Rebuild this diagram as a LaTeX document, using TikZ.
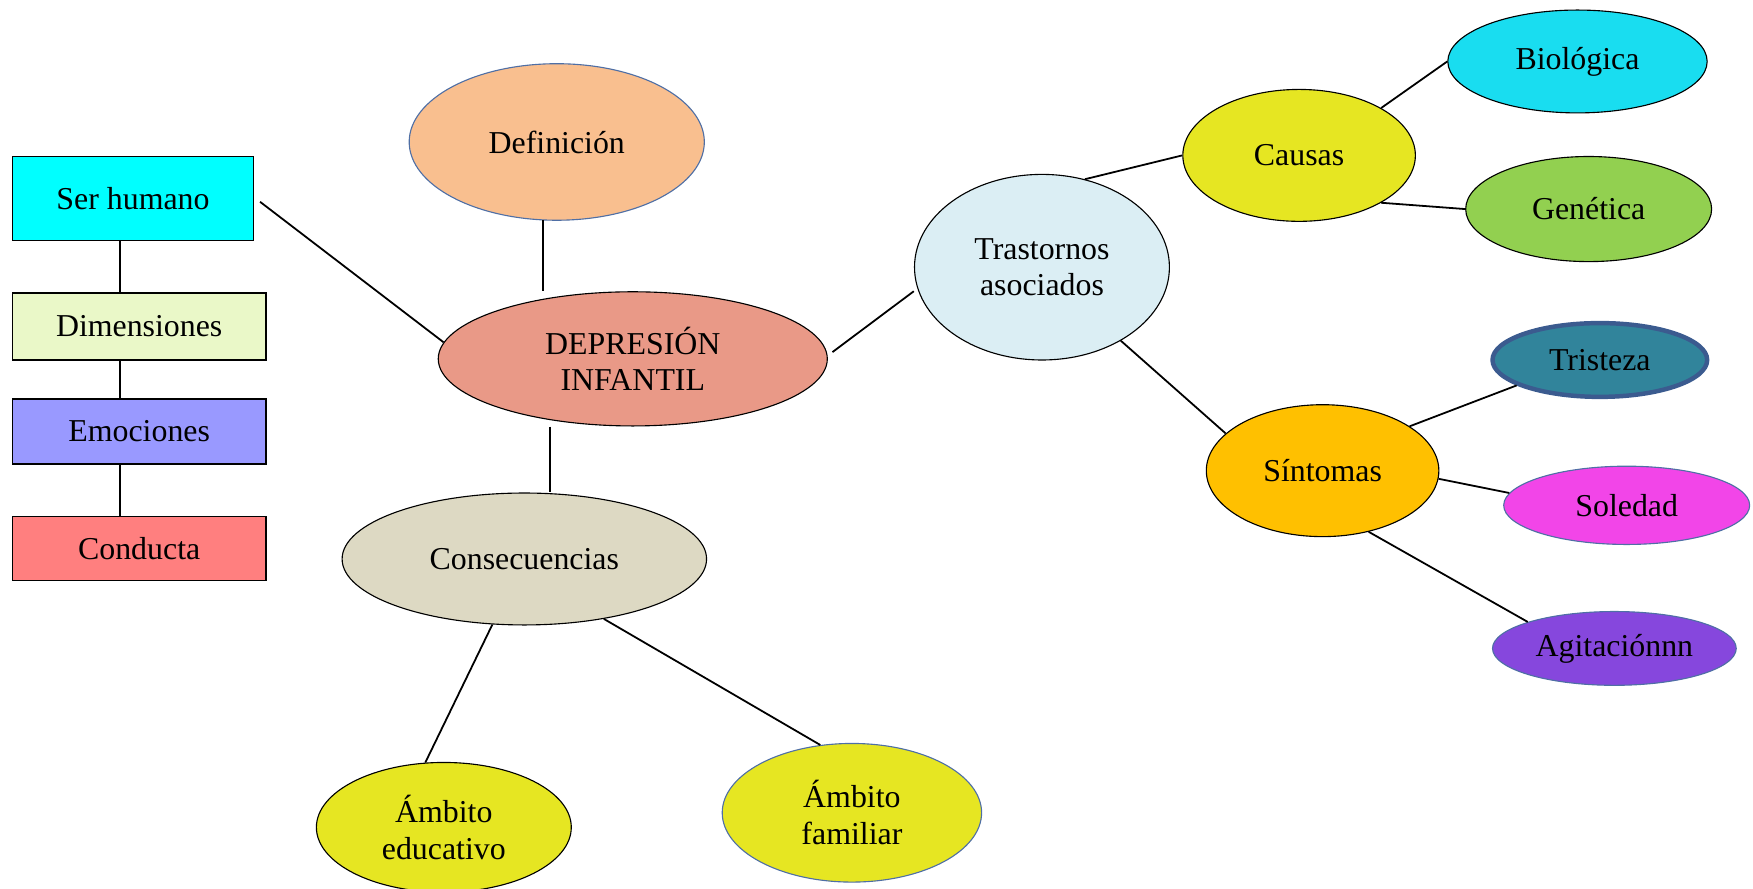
\documentclass[tikz,border=0pt]{standalone}
\usepackage{fontspec}
\setmainfont{Liberation Serif}
\usetikzlibrary{shapes.geometric}
\definecolor{cSer}{HTML}{00FFFF}
\definecolor{cDim}{HTML}{EAF8C8}
\definecolor{cEmo}{HTML}{9999FF}
\definecolor{cCon}{HTML}{FF7F7F}
\definecolor{cDef}{HTML}{F9BF8F}
\definecolor{cDep}{HTML}{E99987}
\definecolor{cCons}{HTML}{DDD9C3}
\definecolor{cYel}{HTML}{E6E622}
\definecolor{cTra}{HTML}{DBEEF4}
\definecolor{cBio}{HTML}{19DDF0}
\definecolor{cGen}{HTML}{92D050}
\definecolor{cSin}{HTML}{FFC000}
\definecolor{cTri}{HTML}{31849B}
\definecolor{cTriB}{HTML}{3B5B8F}
\definecolor{cSol}{HTML}{F245E8}
\definecolor{cAgi}{HTML}{8647DD}
\definecolor{cBlueB}{HTML}{4F6FA5}
\begin{document}
\begin{tikzpicture}[x=0.5pt,y=-0.5pt,
  every node/.style={font=\fontsize{14.25}{16.5}\selectfont, align=center, inner sep=0pt},
  bub/.style={ellipse, draw=black, line width=0.5pt},
  bubblue/.style={ellipse, draw=cBlueB, line width=0.5pt},
  box/.style={rectangle, draw=black, line width=0.6pt},
  link/.style={draw=black, line width=0.8pt}]
\useasboundingbox (0,0) rectangle (1568,795);

% left boxes
\node[box, fill=cSer, minimum width=108pt, minimum height=37.5pt] (ser) at (119,177.5) {Ser humano};
\node[box, fill=cDim, minimum width=113.5pt, minimum height=30pt] (dim) at (124.5,292) {Dimensiones};
\node[box, fill=cEmo, minimum width=113.5pt, minimum height=29pt] (emo) at (124.5,386) {Emociones};
\node[box, fill=cCon, minimum width=113.5pt, minimum height=28.5pt] (con) at (124.5,490.5) {Conducta};

% central
\node[bubblue, fill=cDef, minimum width=132pt, minimum height=70pt] (defn) at (498,127) {Definición};
\node[bub, fill=cDep, minimum width=174pt, minimum height=60pt] (dep) at (566,321) {DEPRESIÓN\\INFANTIL};
\node[bub, fill=cCons, minimum width=163pt, minimum height=59pt] (cons) at (469,500) {Consecuencias};
\node[bub, fill=cYel, minimum width=114pt, minimum height=58pt] (educ) at (397,740) {Ámbito\\educativo};
\node[bubblue, fill=cYel, minimum width=116pt, minimum height=62pt] (fam) at (762,727) {Ámbito\\familiar};

% right
\node[bub, fill=cTra, minimum width=114pt, minimum height=83pt] (tra) at (932,239) {Trastornos\\asociados};
\node[bub, fill=cYel, minimum width=104pt, minimum height=59pt] (cau) at (1162,139) {Causas};
\node[bub, fill=cBio, minimum width=116pt, minimum height=46pt] (bio) at (1411,55) {Biológica};
\node[bub, fill=cGen, minimum width=110pt, minimum height=47pt] (gen) at (1421,187) {Genética};
\node[bub, fill=cSin, minimum width=104pt, minimum height=59pt] (sin) at (1183,421) {Síntomas};
\node[ellipse, draw=cTriB, line width=2pt, fill=cTri, minimum width=96pt, minimum height=33pt] (tri) at (1431,322) {Tristeza};
\node[bubblue, fill=cSol, minimum width=110pt, minimum height=35pt] (sol) at (1455,452) {Soledad};
\node[bubblue, fill=cAgi, minimum width=109pt, minimum height=33pt] (agi) at (1444,580) {Agitaciónnn};

% connectors: left column
\draw[link] ([xshift=-6pt]ser.south) -- ([xshift=-6pt]ser.south |- dim.north);
\draw[link] ([xshift=-6pt]ser.south |- dim.south) -- ([xshift=-6pt]ser.south |- emo.north);
\draw[link] ([xshift=-6pt]ser.south |- emo.south) -- ([xshift=-6pt]ser.south |- con.north);

% connectors: centre
\draw[link] ([xshift=2.5pt,yshift=-1.5pt]ser.east) -- (dep.175);
\draw[link] (defn.260) -- (defn.260 |- dep.north);
\draw[link] ([xshift=-37pt]dep.south) -- ([xshift=-37pt]dep.south |- cons.north);
\draw[link] (cons.244) -- (educ.106);
\draw[link] (cons.-37) -- (fam.115);
\draw[link] ([xshift=2.5pt]dep.2) -- ([xshift=-2pt]tra.191);

% connectors: right
\draw[link] (tra.64) -- (cau.west);
\draw[link] (cau.30) -- (bio.west);
\draw[link] (cau.-30) -- (gen.west);
\draw[link] (tra.-43) -- (sin.159);
\draw[link] (sin.27) -- (tri.197);
\draw[link] (sin.-4) -- (sol.174);
\draw[link] (sin.-53) -- (agi.163);
\end{tikzpicture}
\end{document}
